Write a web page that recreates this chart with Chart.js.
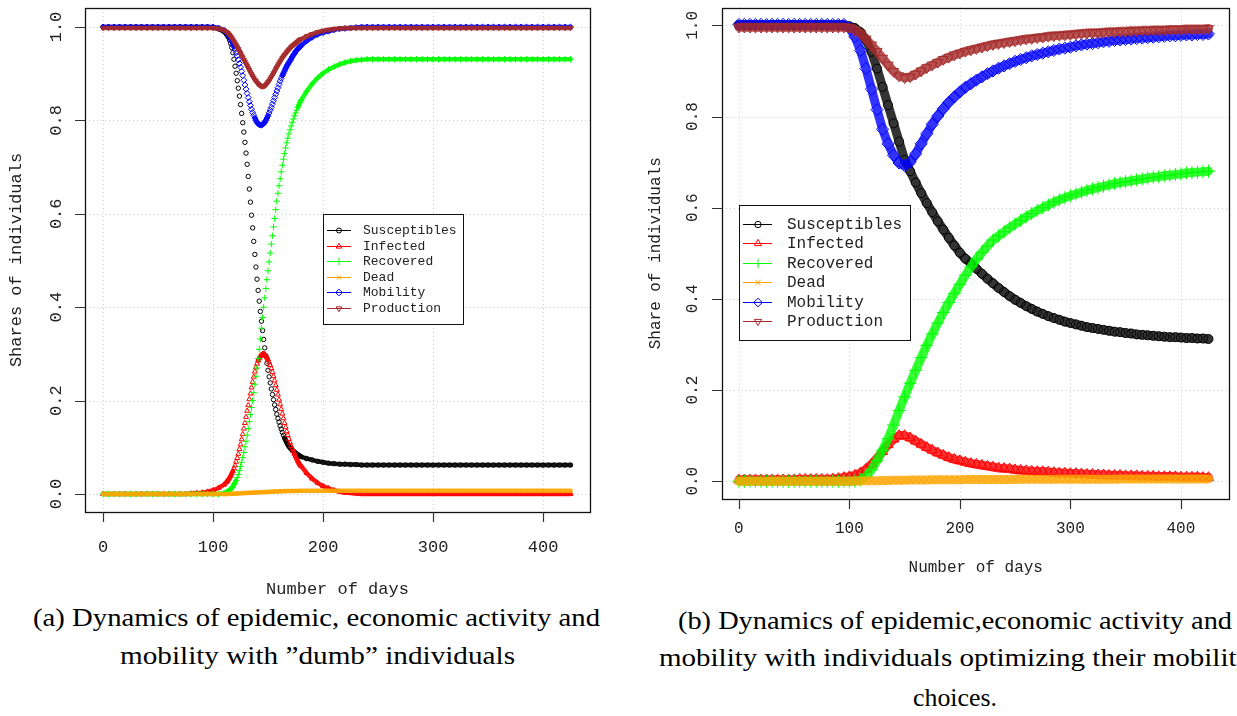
<!DOCTYPE html>
<html><head><meta charset="utf-8">
<script src="https://cdn.jsdelivr.net/npm/chart.js@4.4.0/dist/chart.umd.min.js"></script>
<style>
html,body{margin:0;padding:0;background:#fff;width:1237px;height:716px;overflow:hidden;position:relative}
canvas{position:absolute;top:0}
#cA{left:0}
#cB{left:620px}
.cap{position:absolute;font-family:"Liberation Serif","DejaVu Serif",serif;font-size:25px;color:#000;white-space:nowrap;line-height:1;transform-origin:0 50%}
</style></head><body>
<canvas id="cA" width="620" height="600"></canvas>
<canvas id="cB" width="617" height="600"></canvas>
<div class="cap" data-cx="316.5" data-cy="617" data-w="567">(a) Dynamics of epidemic, economic activity and</div>
<div class="cap" data-cx="317.5" data-cy="655" data-w="395">mobility with ”dumb” individuals</div>
<div class="cap" data-cx="955" data-cy="620" data-w="554">(b) Dynamics of epidemic,economic activity and</div>
<div class="cap" data-cx="955" data-cy="657" data-w="592">mobility with individuals optimizing their mobility</div>
<div class="cap" data-cx="955" data-cy="697" data-w="84">choices.</div>
<script>
// ---------- Panel (a) data ----------
const daysA = [0,5,10,15,20,25,30,35,40,45,50,55,60,65,70,75,80,85,90,95,100,105,110,
112,113,114,115,116,117,118,119,120,121,122,123,124,125,126,127,128,129,130,131,132,133,134,135,136,137,138,139,140,141,142,143,144,145,146,147,148,149,150,
151,152,153,154,155,156,157,158,159,160,161,162,163,164,165,166,167,168,169,170,171,172,173,174,175,176,177,178,179,180,
185,190,195,200,205,210,215,220,225,230,235,240,245,250,255,260,265,270,275,280,285,290,295,300,305,310,315,320,325,330,335,340,345,350,355,360,365,370,375,380,385,390,395,400,405,410,415,420,425];
const susA = [1,1,1,1,1,1,1,1,1,1,1,1,1,1,1,1,1,1,1,1,0.999,0.996,0.99,
0.985,0.982,0.978,0.972,0.965,0.956,0.945,0.931,0.916,0.901,0.885,0.869,0.852,0.834,0.815,0.795,0.775,0.753,0.73,0.706,0.68,0.653,0.625,0.597,0.57,0.541,0.513,0.486,0.46,0.436,0.413,0.391,0.37,0.35,0.331,0.313,0.296,0.28,0.265,
0.251,0.238,0.225,0.213,0.202,0.191,0.181,0.171,0.162,0.154,0.146,0.139,0.132,0.126,0.12,0.115,0.11,0.106,0.102,0.099,0.096,0.094,0.092,0.09,0.088,0.086,0.084,0.083,0.081,0.08,
0.076,0.073,0.07,0.068,0.066,0.065,0.064,0.064,0.063,0.063,
0.062,0.062,0.062,0.062,0.062,0.062,0.062,0.062,0.062,0.062,
0.062,0.062,0.062,0.062,0.062,0.062,0.062,0.062,0.062,0.062,
0.062,0.062,0.062,0.062,0.062,0.062,0.062,0.062,0.062,0.062,
0.062,0.062,0.062,0.062,0.062,0.062,0.062,0.062,0.062];
const infA = [0,0,0,0,0,0,0,0,0,0,0,0,0,0,0,0,0.001,0.002,0.003,0.005,0.008,0.013,0.02,
0.025,0.028,0.031,0.035,0.039,0.044,0.049,0.055,0.061,0.069,0.077,0.086,0.096,0.106,0.117,0.128,0.14,0.152,0.165,0.178,0.19,0.203,0.215,0.228,0.24,0.251,0.262,0.271,0.279,0.286,0.291,0.295,0.298,0.3,0.3,0.299,0.296,0.292,0.288,
0.282,0.276,0.269,0.261,0.252,0.243,0.233,0.223,0.213,0.202,0.192,0.182,0.172,0.162,0.152,0.143,0.134,0.126,0.118,0.11,0.103,0.097,0.091,0.086,0.081,0.076,0.071,0.067,0.063,0.06,
0.045,0.033,0.024,0.017,0.012,0.008,0.005,0.003,0.002,0.001,
0,0,0,0,0,0,0,0,0,0,0,0,0,0,0,0,0,0,0,0,0,0,0,0,0,0,0,0,0,0,0,0,0,0,0,0,0,0,0];
const recA = [0,0,0,0,0,0,0,0,0,0,0,0,0,0,0,0,0,0,0,0,0,0,0.002,
0.004,0.005,0.006,0.008,0.01,0.013,0.016,0.02,0.024,0.029,0.035,0.042,0.05,0.059,0.068,0.078,0.089,0.101,0.113,0.126,0.14,0.155,0.17,0.185,0.2,0.217,0.235,0.252,0.27,0.29,0.31,0.332,0.355,0.378,0.4,0.42,0.44,0.459,0.478,
0.497,0.516,0.535,0.553,0.572,0.59,0.609,0.627,0.644,0.66,0.675,0.69,0.704,0.717,0.729,0.741,0.752,0.762,0.771,0.78,0.788,0.796,0.803,0.81,0.816,0.822,0.828,0.833,0.838,0.843,
0.862,0.878,0.891,0.901,0.909,0.915,0.92,0.924,0.927,0.929,0.93,
0.931,0.931,0.931,0.931,0.931,0.931,0.931,0.931,0.931,0.931,
0.931,0.931,0.931,0.931,0.931,0.931,0.931,0.931,0.931,0.931,
0.931,0.931,0.931,0.931,0.931,0.931,0.931,0.931,0.931,0.931,
0.931,0.931,0.931,0.931,0.931,0.931,0.931,0.931];
const deadA = [0,0,0,0,0,0,0,0,0,0,0,0,0,0,0,0,0,0,0,0,0,0,0,
0,0,0,0.0003,0.0005,0.0005,0.0005,0.0008,0.001,0.001,0.001,0.0013,0.0015,0.0015,0.0015,0.0018,0.002,0.002,0.002,0.0023,0.0025,0.0025,0.0025,0.0028,0.003,0.003,0.003,0.0033,0.0035,0.0035,0.0035,0.0038,0.004,0.004,0.004,0.0043,0.0045,0.0045,0.0045,
0.0048,0.005,0.005,0.005,0.0052,0.0053,0.0054,0.0055,0.0056,0.0057,0.0058,0.0059,0.006,0.006,0.0061,0.0062,0.0062,0.0063,0.0063,0.0064,0.0064,0.0065,0.0065,0.0066,0.0066,0.0067,0.0067,0.0068,0.0068,0.0069,
0.007,0.007,0.007,0.007,0.007,0.007,0.007,0.007,0.007,0.007,
0.007,0.007,0.007,0.007,0.007,0.007,0.007,0.007,0.007,0.007,
0.007,0.007,0.007,0.007,0.007,0.007,0.007,0.007,0.007,0.007,
0.007,0.007,0.007,0.007,0.007,0.007,0.007,0.007,0.007,0.007,
0.007,0.007,0.007,0.007,0.007,0.007,0.007,0.007,0.007];
const mobA = [1,1,1,1,1,1,1,1,1,1,1,1,1,1,1,1,1,1,1,1,1,0.998,0.993,
0.989,0.986,0.983,0.979,0.974,0.969,0.963,0.958,0.952,0.945,0.938,0.93,0.922,0.914,0.905,0.896,0.886,0.876,0.867,0.858,0.849,0.84,0.832,0.824,0.817,0.811,0.805,0.8,0.796,0.793,0.791,0.79,0.79,0.791,0.793,0.796,0.8,0.805,0.81,
0.816,0.822,0.828,0.835,0.842,0.849,0.856,0.863,0.87,0.877,0.884,0.89,0.896,0.901,0.906,0.911,0.916,0.92,0.924,0.928,0.932,0.936,0.94,0.943,0.947,0.95,0.953,0.955,0.958,0.96,
0.97,0.978,0.984,0.988,0.991,0.994,0.996,0.997,0.998,0.999,
1,1,1,1,1,1,1,1,1,1,1,1,1,1,1,1,1,1,1,1,1,1,1,1,1,1,1,1,1,1,1,1,1,1,1,1,1,1,1];
const prodA = [0.998,0.998,0.998,0.998,0.998,0.998,0.998,0.998,0.998,0.998,0.998,0.998,0.998,0.998,0.998,0.998,0.998,0.998,0.998,0.998,0.998,0.997,0.993,
0.99,0.988,0.986,0.983,0.98,0.977,0.973,0.969,0.965,0.961,0.957,0.953,0.948,0.944,0.939,0.935,0.93,0.926,0.921,0.917,0.912,0.908,0.903,0.899,0.895,0.891,0.887,0.884,0.881,0.878,0.876,0.874,0.873,0.873,0.873,0.874,0.876,0.879,0.882,
0.885,0.889,0.893,0.897,0.901,0.905,0.91,0.914,0.918,0.922,0.926,0.93,0.934,0.937,0.94,0.943,0.946,0.949,0.952,0.954,0.957,0.959,0.961,0.963,0.965,0.967,0.969,0.971,0.973,0.974,
0.98,0.985,0.989,0.992,0.994,0.996,0.997,0.998,
0.998,0.998,0.998,0.998,0.998,0.998,0.998,0.998,0.998,0.998,
0.998,0.998,0.998,0.998,0.998,0.998,0.998,0.998,0.998,0.998,
0.998,0.998,0.998,0.998,0.998,0.998,0.998,0.998,0.998,0.998,
0.998,0.998,0.998,0.998,0.998,0.998,0.998,0.998,0.998,0.998,0.998];

// ---------- Panel (b) data ----------
const daysB = [0,5,10,15,20,25,30,35,40,45,50,55,60,65,70,75,80,85,90,95,
100,105,110,115,120,125,130,135,140,145,150,155,160,165,170,175,180,185,190,195,
200,205,210,215,220,225,230,235,240,245,250,255,260,265,270,275,280,285,290,295,
300,305,310,315,320,325,330,335,340,345,350,355,360,365,370,375,380,385,390,395,
400,405,410,415,420,425];
const susB = [1,1,1,1,1,1,1,1,1,1,1,1,1,1,1,1,1,1,1,1,
0.998,0.994,0.985,0.968,0.942,0.905,0.865,0.825,0.785,0.745,0.705,
0.68,0.655,0.632,0.61,0.59,0.57,0.552,0.534,0.517,0.501,
0.488,0.478,0.466,0.455,0.444,0.434,0.424,0.415,0.406,0.398,
0.391,0.384,0.378,0.372,0.367,0.362,0.358,0.354,0.35,0.347,
0.344,0.341,0.338,0.336,0.334,0.332,0.33,0.328,0.327,0.325,
0.324,0.322,0.321,0.32,0.319,0.318,0.317,0.316,0.316,0.315,
0.314,0.314,0.313,0.313,0.312];
const infB = [0.003,0.003,0.003,0.003,0.003,0.003,0.003,0.003,0.003,0.003,0.003,
0.004,0.004,0.004,0.004,0.004,0.004,0.005,0.006,0.008,
0.01,0.013,0.018,0.026,0.037,0.05,0.065,0.08,0.092,0.1,0.1,
0.095,0.088,0.081,0.074,0.068,0.062,0.057,0.052,0.048,0.045,
0.042,0.039,0.037,0.035,0.033,0.031,0.029,0.028,0.027,0.025,
0.024,0.023,0.022,0.021,0.021,0.02,0.019,0.018,0.018,0.017,
0.017,0.016,0.015,0.015,0.014,0.014,0.013,0.013,0.013,0.012,
0.012,0.012,0.011,0.011,0.011,0.01,0.01,0.01,0.01,0.009,
0.009,0.009,0.009,0.008,0.008];
const recB = [0,0,0,0,0,0,0,0,0,0,0,0,0,0,0,0,0,0,0,0,0,0,
0.003,0.01,0.025,0.045,0.068,0.093,0.123,0.155,0.185,
0.215,0.243,0.271,0.298,0.323,0.347,0.37,0.392,0.412,0.432,
0.452,0.47,0.487,0.502,0.516,0.529,0.538,0.547,0.556,0.564,
0.572,0.58,0.587,0.594,0.6,0.606,0.612,0.617,0.622,0.626,
0.63,0.634,0.638,0.641,0.644,0.647,0.65,0.653,0.655,0.657,
0.659,0.661,0.663,0.665,0.667,0.668,0.67,0.671,0.673,0.674,
0.676,0.677,0.678,0.679,0.68];
const deadB = [0,0,0,0,0,0,0,0,0,0,0,0,0,0,0,0,0,0,0,0,0,
0.0005,0.0005,0.001,0.001,0.0012,0.0015,0.0017,0.002,0.002,0.0022,
0.0024,0.0026,0.0027,0.0028,0.003,0.003,0.0031,0.0032,0.0033,0.0034,
0.0035,0.0035,0.0036,0.0036,0.0037,0.0037,0.0038,0.0038,0.0039,0.0039,
0.004,0.004,0.004,0.0041,0.0041,0.0041,0.0042,0.0042,0.0042,0.0043,
0.0043,0.0043,0.0044,0.0044,0.0044,0.0045,0.0045,0.0045,0.0046,0.0046,
0.0046,0.0047,0.0047,0.0047,0.0048,0.0048,0.0048,0.0049,0.0049,0.0049,
0.005,0.005,0.005,0.005,0.005];
const mobB = [1.002,1.002,1.002,1.002,1.002,1.002,1.002,1.002,1.002,1.002,1.002,1.002,1.002,1.002,1.002,1.002,1.002,1.002,1.002,1.002,
0.995,0.975,0.945,0.905,0.86,0.815,0.772,0.74,0.715,0.698,0.692,
0.7,0.718,0.74,0.762,0.783,0.801,0.817,0.831,0.843,0.854,
0.864,0.872,0.88,0.887,0.894,0.9,0.906,0.911,0.916,0.921,
0.925,0.929,0.933,0.936,0.939,0.942,0.945,0.948,0.95,0.952,
0.955,0.957,0.959,0.96,0.962,0.964,0.965,0.967,0.968,0.969,
0.97,0.971,0.972,0.973,0.974,0.975,0.976,0.977,0.977,0.978,
0.979,0.979,0.98,0.98,0.981];
const prodB = [0.996,0.996,0.996,0.996,0.996,0.996,0.996,0.996,0.996,0.996,0.996,0.996,0.996,0.996,0.996,0.996,0.996,0.996,0.996,0.996,
0.995,0.99,0.982,0.97,0.957,0.943,0.928,0.913,0.899,0.889,0.885,
0.887,0.893,0.9,0.907,0.913,0.919,0.925,0.93,0.935,0.939,
0.943,0.946,0.949,0.952,0.955,0.958,0.96,0.962,0.964,0.966,
0.968,0.97,0.971,0.973,0.974,0.976,0.977,0.978,0.979,0.98,
0.981,0.982,0.983,0.984,0.984,0.985,0.986,0.986,0.987,0.987,
0.988,0.988,0.989,0.989,0.99,0.99,0.99,0.991,0.991,0.991,
0.992,0.992,0.992,0.992,0.993];

// ---------- shared labels & styles ----------
const seriesNames = ["Susceptibles","Infected","Recovered","Dead","Mobility","Production"];
const seriesColors = ["#000000","#FF0000","#00FF00","#FFA500","#0000FF","#A52A2A"];
const seriesStyles = ["circle","triangle","cross","crossRot","rectRot","triangle"];
const seriesRot = [0,0,0,0,0,180];
const styleScale = {circle:1, triangle:1.3, cross:1.45, crossRot:1.15, rectRot:1.35};
const xTickVals = [0,100,200,300,400];
const xTickLabels = ["0","100","200","300","400"];
const yTickVals = [0,0.2,0.4,0.6,0.8,1.0];
const yTickLabels = ["0.0","0.2","0.4","0.6","0.8","1.0"];

function rgba(hex, a){
  const n = parseInt(hex.slice(1), 16);
  return 'rgba(' + ((n >> 16) & 255) + ',' + ((n >> 8) & 255) + ',' + (n & 255) + ',' + a + ')';
}

function mark(ctx, st, rot, x, y, r){
  ctx.beginPath();
  if (st === 'circle') { ctx.arc(x, y, r, 0, Math.PI*2); }
  else if (st === 'triangle') {
    const a0 = rot ? Math.PI : 0;
    for (let k=0;k<3;k++){ const a=a0+k*2*Math.PI/3; const px=x+Math.sin(a)*r, py=y-Math.cos(a)*r; if(k) ctx.lineTo(px,py); else ctx.moveTo(px,py); }
    ctx.closePath();
  } else if (st === 'cross') { ctx.moveTo(x-r,y); ctx.lineTo(x+r,y); ctx.moveTo(x,y-r); ctx.lineTo(x,y+r); }
  else if (st === 'crossRot') { const d=r*0.75; ctx.moveTo(x-d,y-d); ctx.lineTo(x+d,y+d); ctx.moveTo(x+d,y-d); ctx.lineTo(x-d,y+d); }
  else if (st === 'rectRot') { ctx.moveTo(x-r,y); ctx.lineTo(x,y-r); ctx.lineTo(x+r,y); ctx.lineTo(x,y+r); ctx.closePath(); }
  ctx.stroke();
}

function framePlugin(o){
  return {
    id: 'frame',
    beforeDatasetsDraw(chart){
      const ctx = chart.ctx, a = chart.chartArea, xs = chart.scales.x, ys = chart.scales.y;
      ctx.save();
      ctx.strokeStyle = '#cccccc'; ctx.lineWidth = 1; ctx.setLineDash([1,3]);
      ctx.beginPath();
      xTickVals.forEach(v => { const p = Math.round(xs.getPixelForValue(v)) + 0.5; ctx.moveTo(p, a.top); ctx.lineTo(p, a.bottom); });
      yTickVals.forEach(v => { const p = Math.round(ys.getPixelForValue(v)) + 0.5; ctx.moveTo(a.left, p); ctx.lineTo(a.right, p); });
      ctx.stroke();
      ctx.restore();
    },
    afterDraw(chart){
      const ctx = chart.ctx, a = chart.chartArea, xs = chart.scales.x, ys = chart.scales.y;
      ctx.save();
      const L = o.legend;
      ctx.fillStyle = '#fff'; ctx.fillRect(L.x, L.y, L.w, L.h);
      ctx.strokeStyle = '#111'; ctx.lineWidth = 1; ctx.strokeRect(L.x + 0.5, L.y + 0.5, L.w, L.h);
      ctx.font = L.font; ctx.textAlign = 'left'; ctx.textBaseline = 'middle';
      seriesNames.forEach((n, i) => {
        const yy = Math.round(L.row0 + i * L.step) + 0.5;
        ctx.strokeStyle = seriesColors[i]; ctx.lineWidth = 1;
        ctx.beginPath(); ctx.moveTo(L.l1, yy); ctx.lineTo(L.l2, yy); ctx.stroke();
        mark(ctx, seriesStyles[i], seriesRot[i], L.mx, yy, L.r * styleScale[seriesStyles[i]]);
        ctx.fillStyle = '#222'; ctx.fillText(n, L.tx, yy + 0.5);
      });
      ctx.strokeStyle = '#111'; ctx.lineWidth = 1.3;
      ctx.strokeRect(Math.round(a.left) + 0.5, Math.round(a.top) + 0.5, Math.round(a.right - a.left), Math.round(a.bottom - a.top));
      ctx.strokeStyle = '#333'; ctx.lineWidth = 1.2; ctx.beginPath();
      xTickVals.forEach(v => { const p = Math.round(xs.getPixelForValue(v)) + 0.5; ctx.moveTo(p, a.bottom); ctx.lineTo(p, a.bottom + o.tick); });
      yTickVals.forEach(v => { const p = Math.round(ys.getPixelForValue(v)) + 0.5; ctx.moveTo(a.left, p); ctx.lineTo(a.left - o.tick, p); });
      ctx.stroke();
      ctx.fillStyle = '#222'; ctx.font = o.font; ctx.textAlign = 'center'; ctx.textBaseline = 'middle';
      xTickVals.forEach((v, i) => ctx.fillText(xTickLabels[i], xs.getPixelForValue(v), o.xLabY));
      yTickVals.forEach((v, i) => { ctx.save(); ctx.translate(o.yLabX, ys.getPixelForValue(v)); ctx.rotate(-Math.PI/2); ctx.fillText(yTickLabels[i], 0, 0); ctx.restore(); });
      ctx.fillText(o.xTitle, (a.left + a.right) / 2, o.xTitleY);
      ctx.save(); ctx.translate(o.yTitleX, (a.top + a.bottom) / 2); ctx.rotate(-Math.PI/2); ctx.fillText(o.yTitle, 0, 0); ctx.restore();
      ctx.restore();
    }
  };
}

function makeChart(id, days, values, o){
  const datasets = values.map((vals, i) => {
    const col = seriesColors[i];
    const band = rgba(col, o.bandAlpha);
    return {
      label: seriesNames[i],
      data: days.map((d, j) => ({x: d, y: vals[j]})),
      showLine: true,
      borderWidth: o.band,
      borderColor: band,
      borderCapStyle: 'round',
      borderJoinStyle: 'round',
      // daily markers overlap into a solid band wherever they are closer than about one marker width
      segment: {
        borderColor: c => {
          const dd = Math.max(1, c.p1.parsed.x - c.p0.parsed.x);
          const perDay = Math.hypot(c.p1.x - c.p0.x, c.p1.y - c.p0.y) / dd;
          return perDay < o.gap ? band : 'rgba(0,0,0,0)';
        }
      },
      pointStyle: seriesStyles[i],
      pointRotation: seriesRot[i],
      pointRadius: o.r * styleScale[seriesStyles[i]],
      pointBorderWidth: 1,
      pointBorderColor: col,
      backgroundColor: 'rgba(0,0,0,0)',
      pointBackgroundColor: 'rgba(0,0,0,0)',
      order: values.length - 1 - i
    };
  });
  return new Chart(document.getElementById(id), {
    type: 'scatter',
    data: { datasets },
    options: {
      responsive: false, animation: false, events: [],
      layout: { padding: o.pad },
      plugins: { legend: { display: false }, tooltip: { enabled: false } },
      scales: {
        x: { type: 'linear', display: false, min: o.xmin, max: o.xmax },
        y: { type: 'linear', display: false, min: o.ymin, max: o.ymax }
      }
    },
    plugins: [framePlugin(o)]
  });
}

makeChart('cA', daysA, [susA, infA, recA, deadA, mobA, prodA], {
  pad: { left: 85, right: 30, top: 8, bottom: 88 },
  xmin: -16.4, xmax: 442.7, ymin: -0.0385, ymax: 1.0407,
  r: 2.2, band: 4.5, bandAlpha: 0.9, gap: 3.0,
  tick: 10, font: "17px 'Liberation Mono', monospace",
  xLabY: 547, yLabX: 56, xTitle: 'Number of days', xTitleY: 589,
  yTitle: 'Shares of individuals', yTitleX: 16,
  legend: { x: 323, y: 214, w: 140, h: 110, row0: 230, step: 15.6, l1: 327, l2: 351, mx: 339, tx: 363, r: 2.5, font: "13px 'Liberation Mono', monospace" }
});

makeChart('cB', daysB, [susB, infB, recB, deadB, mobB, prodB], {
  pad: { left: 102, right: 4, top: 3, bottom: 101 },
  xmin: -15.3, xmax: 444, ymin: -0.0391, ymax: 1.0391,
  r: 4.5, band: 9, bandAlpha: 0.8, gap: 10,
  tick: 10, font: "16px 'Liberation Mono', monospace",
  xLabY: 529, yLabX: 73, xTitle: 'Number of days', xTitleY: 568,
  yTitle: 'Share of individuals', yTitleX: 36,
  legend: { x: 119, y: 205, w: 171, h: 135, row0: 224, step: 19.4, l1: 123, l2: 152, mx: 138, tx: 167, r: 3.2, font: "16px 'Liberation Mono', monospace" }
});

// captions: centre each line and stretch it to the width seen in the reference
document.querySelectorAll('.cap').forEach(el => {
  const r0 = el.getBoundingClientRect();
  const k = parseFloat(el.dataset.w) / r0.width;
  el.style.transform = 'scaleX(' + k + ')';
  el.style.left = (parseFloat(el.dataset.cx) - parseFloat(el.dataset.w) / 2) + 'px';
  el.style.top = (parseFloat(el.dataset.cy) - r0.height / 2) + 'px';
});
</script>
</body></html>
